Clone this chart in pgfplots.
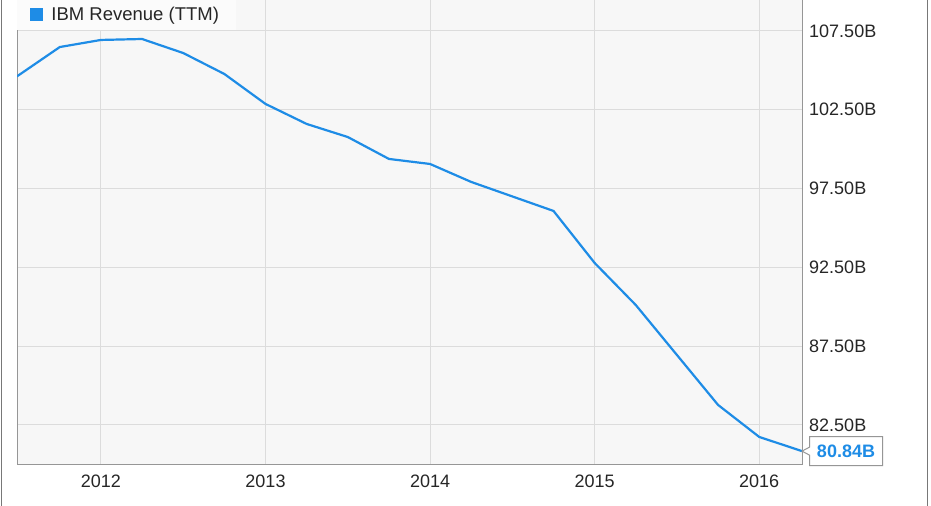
\documentclass[border=0pt]{standalone}
\usepackage{pgfplots}
\pgfplotsset{compat=1.18}
\usepackage{fontspec}
\setmainfont{Liberation Sans}
\usetikzlibrary{shapes.callouts}
\definecolor{ibm}{RGB}{30,140,230}
\definecolor{plotbg}{RGB}{247,247,247}
\definecolor{gridc}{RGB}{220,220,220}
\definecolor{framec}{RGB}{150,150,150}
\definecolor{legbg}{RGB}{251,251,251}
\definecolor{borderc}{RGB}{120,120,120}
\begin{document}
\begin{tikzpicture}[x=1bp,y=1bp]
\useasboundingbox (0,0) rectangle (931,506);
\fill[white] (0,0) rectangle (931,506);
\draw[borderc, line width=1bp] (1.5,0) -- (1.5,506);
\draw[borderc, line width=1bp] (927,0) -- (927,506);
\begin{axis}[
  at={(17bp,41bp)}, anchor=south west,
  scale only axis, width=785bp, height=475bp,
  xmin=2011.49, xmax=2016.26,
  ymin=79.96, ymax=110.10,
  axis background/.style={fill=plotbg},
  axis line style={draw=framec, line width=1bp},
  grid=major, grid style={draw=gridc, line width=1bp},
  major tick length=0pt,
  xtick={2012,2013,2014,2015,2016},
  xticklabels={2012,2013,2014,2015,2016},
  ytick={82.5,87.5,92.5,97.5,102.5,107.5},
  yticklabel pos=right,
  yticklabel={\pgfmathprintnumber[fixed,fixed zerofill,precision=2]{\tick}B},
  /pgf/number format/assume math mode=true,
  every tick label/.append style={font=\fontsize{18bp}{20bp}\selectfont, text=black!85},
  xticklabel style={anchor=center, yshift=-16bp},
  yticklabel style={anchor=west, inner sep=0pt, xshift=7bp},
  legend style={at={(axis cs:2011.49,107.56)}, anchor=south west, fill=legbg, draw=none,
    inner xsep=13bp, inner ysep=4bp, nodes={inner sep=4bp},
    /tikz/every odd column/.append style={column sep=4bp},
    font=\fontsize{18.5bp}{20bp}\selectfont, text=black!85},
  legend image code/.code={\fill[ibm] (0bp,-5.5bp) rectangle (11bp,5.5bp);},
]
\addplot[ibm, line width=2.2bp] coordinates {
(2011.49,104.62) (2011.75,106.48) (2012.00,106.93) (2012.25,106.99)
(2012.50,106.10) (2012.75,104.77) (2013.00,102.87) (2013.25,101.60)
(2013.50,100.77) (2013.75,99.38) (2014.00,99.06) (2014.25,97.92)
(2014.50,97.00) (2014.75,96.08) (2015.00,92.78) (2015.25,90.11)
(2015.50,86.94) (2015.75,83.77) (2016.00,81.74) (2016.26,80.84)
};
\addlegendentry{IBM Revenue (TTM)}
\coordinate (endpt) at (axis cs:2016.26,80.84);
\end{axis}
\node[rectangle callout, draw=framec, fill=white, line width=1bp,
  callout absolute pointer={(endpt)}, callout pointer width=8bp,
  anchor=west, minimum width=73bp, minimum height=29bp, inner sep=2bp,
  text=ibm, font=\fontsize{18bp}{20bp}\selectfont\bfseries]
  at ([xshift=7bp]endpt) {80.84B};
\end{tikzpicture}
\end{document}
